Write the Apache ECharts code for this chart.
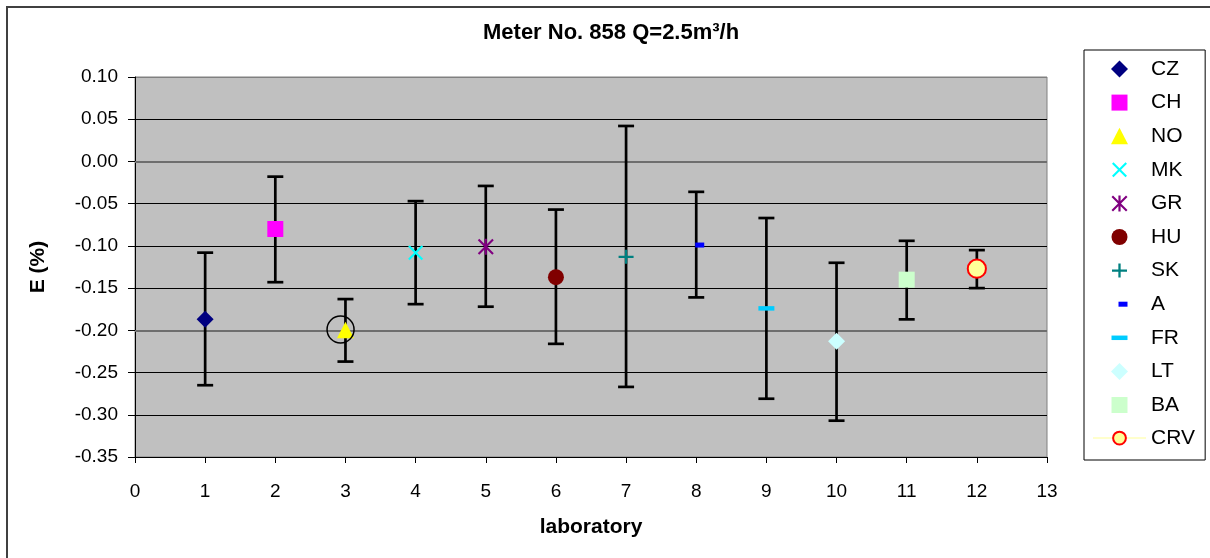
<!DOCTYPE html>
<html><head><meta charset="utf-8">
<script src="https://cdn.jsdelivr.net/npm/echarts@6/dist/echarts.min.js"></script>
<style>html,body{margin:0;padding:0;background:#fff}#c{width:1210px;height:558px}</style>
</head><body><div id="c"></div>
<script>
// ---- data ----
const labNames = ['CZ','CH','NO','MK','GR','HU','SK','A','FR','LT','BA','CRV'];
const labX     = [1,2,3,4,5,6,7,8,9,10,11,12];
const eVal     = [-0.187,-0.080,-0.200,-0.108,-0.101,-0.137,-0.113,-0.099,-0.174,-0.213,-0.140,-0.127];
const eHigh    = [-0.108,-0.018,-0.163,-0.047,-0.029,-0.057, 0.042,-0.036,-0.067,-0.120,-0.094,-0.105];
const eLow     = [-0.265,-0.143,-0.237,-0.169,-0.172,-0.216,-0.267,-0.161,-0.281,-0.307,-0.187,-0.150];
const ringX    = [2.93];
const ringY    = [-0.199];
const grayGridValues = [0, -0.2];
const titleText = 'Meter No. 858 Q=2.5m³/h';
const xName = 'laboratory';
const yName = 'E (%)';

// ---- styles ----
const FONT = "'Liberation Sans', Arial, sans-serif";
const colors = ['#000080','#ff00ff','#ffff00','#00ffff','#800080','#800000','#008080','#0000ff','#00ccff','#ccffff','#ccffcc','#ffff99'];
const BOX = 'path://M0,0M22,22';
const sym = {
  diamond: BOX + 'M11,2.5L19.5,11L11,19.5L2.5,11Z',
  square:  BOX + 'M3,3L19,3L19,19L3,19Z',
  tri:     BOX + 'M11,2.5L19.5,19L2.5,19Z',
  x:       BOX + 'M5,3.5L11,9.5L17,3.5L18.5,5L12.5,11L18.5,17L17,18.5L11,12.5L5,18.5L3.5,17L9.5,11L3.5,5Z',
  star:    BOX + 'M4.5,3L11,9.5L17.5,3L19,4.5L12.5,11L19,17.5L17.5,19L11,12.5L4.5,19L3,17.5L9.5,11L3,4.5Z' +
                 'M9.9,3L12.1,3L12.1,19L9.9,19Z',
  circle:  BOX + 'M3,11A8,8,0,1,1,19,11A8,8,0,1,1,3,11Z',
  plus:    BOX + 'M9.85,4L12.15,4L12.15,9.85L18.5,9.85L18.5,12.15L12.15,12.15L12.15,18L9.85,18L9.85,12.15L3.5,12.15L3.5,9.85L9.85,9.85Z',
  dashA:   BOX + 'M10,8.5L19,8.5L19,13.5L10,13.5Z',
  dashFR:  BOX + 'M3,8.75L19,8.75L19,13.25L3,13.25Z'
};
const symList = [sym.diamond, sym.square, sym.tri, sym.x, sym.star, sym.circle, sym.plus, sym.dashA, sym.dashFR, sym.diamond, sym.square, sym.circle];

const series = [];
series.push({
  name: 'errorbars', type: 'custom', z: 2, silent: true,
  data: labX.map((x, i) => [x, eLow[i], eHigh[i]]),
  encode: { x: 0, y: [1, 2] },
  renderItem: function (params, api) {
    const x = api.value(0);
    const top = api.coord([x, api.value(2)]);
    const bot = api.coord([x, api.value(1)]);
    const hw = 8;
    const st = { stroke: '#000', lineWidth: 2.7 };
    return { type: 'group', children: [
      { type: 'line', shape: { x1: top[0], y1: top[1], x2: bot[0], y2: bot[1] }, style: st },
      { type: 'line', shape: { x1: top[0] - hw, y1: top[1], x2: top[0] + hw, y2: top[1] }, style: st },
      { type: 'line', shape: { x1: bot[0] - hw, y1: bot[1], x2: bot[0] + hw, y2: bot[1] }, style: st }
    ]};
  },
  markLine: {
    z: 1, silent: true, symbol: 'none', label: { show: false }, animation: false,
    lineStyle: { color: '#6e6e6e', width: 2, type: 'solid' },
    data: grayGridValues.map(v => ({ yAxis: v }))
  }
});
labNames.forEach((n, i) => {
  if (n === 'CRV') {
    series.push({
      name: n, type: 'line', z: 4, symbol: symList[i], symbolSize: 25, showSymbol: true,
      data: [[labX[i], eVal[i]]],
      lineStyle: { color: '#ffffcc', width: 1.5 },
      itemStyle: { color: colors[i], borderColor: '#ff0000', borderWidth: 2 }
    });
  } else {
    series.push({
      name: n, type: 'scatter', z: 3, symbol: symList[i], symbolSize: 22,
      data: [[labX[i], eVal[i]]],
      itemStyle: { color: colors[i], opacity: 1 }
    });
  }
});
series.push({
  name: 'ring', type: 'scatter', z: 4, symbol: 'circle', symbolSize: 27, silent: true,
  data: ringX.map((x, i) => [x, ringY[i]]),
  itemStyle: { color: 'rgba(0,0,0,0)', borderColor: '#000', borderWidth: 1.5, opacity: 1 }
});

const chart = echarts.init(document.getElementById('c'), null, { renderer: 'canvas' });
chart.setOption({
  animation: false,
  backgroundColor: '#fff',
  title: {
    text: titleText, left: 483, top: 22, padding: 0,
    textStyle: { fontFamily: FONT, fontSize: 22, fontWeight: 'bold', color: '#000' }
  },
  graphic: [{
    type: 'rect', z: -1, silent: true,
    shape: { x: 7, y: 7, width: 1400, height: 800 },
    style: { fill: 'none', stroke: '#404040', lineWidth: 2 }
  }],
  legend: {
    orient: 'vertical', left: 1084, top: 50, align: 'left',
    padding: [8, 10.2, 11.4, 8],
    itemWidth: 53, itemHeight: 22, itemGap: 11.6,
    borderColor: '#000', borderWidth: 1, backgroundColor: '#fff',
    symbolKeepAspect: true,
    textStyle: { fontFamily: FONT, fontSize: 21, color: '#000' },
    data: labNames.map(n => ({ name: n }))
  },
  grid: {
    left: 135, top: 77, width: 912, height: 380, show: true,
    backgroundColor: '#c0c0c0', borderColor: '#808080', borderWidth: 1
  },
  xAxis: {
    type: 'value', min: 0, max: 13, interval: 1,
    name: xName, nameLocation: 'middle', nameGap: 60,
    nameTextStyle: { fontFamily: FONT, fontSize: 21, fontWeight: 'bold', color: '#000' },
    axisLine: { show: true, onZero: false, lineStyle: { color: '#000', width: 1 } },
    axisTick: { show: true, length: 6, inside: false, lineStyle: { color: '#000' } },
    axisLabel: { margin: 25, fontFamily: FONT, fontSize: 19, color: '#000' },
    splitLine: { show: false }
  },
  yAxis: {
    type: 'value', min: -0.35, max: 0.10, interval: 0.05,
    name: yName, nameLocation: 'middle', nameGap: 86,
    nameTextStyle: { fontFamily: FONT, fontSize: 21, fontWeight: 'bold', color: '#000' },
    axisLine: { show: true, onZero: false, lineStyle: { color: '#000', width: 1 } },
    axisTick: { show: true, length: 7, inside: false, lineStyle: { color: '#000' } },
    axisLabel: {
      margin: 17, fontFamily: FONT, fontSize: 19, color: '#000',
      formatter: v => (Math.abs(v) < 1e-9 ? 0 : v).toFixed(2)
    },
    splitLine: { show: true, lineStyle: { color: ['#000','#000','#000','#000','#000','#000','#000','#000','#000','#808080'], width: 1 } }
  },
  series: series
});
</script></body></html>
